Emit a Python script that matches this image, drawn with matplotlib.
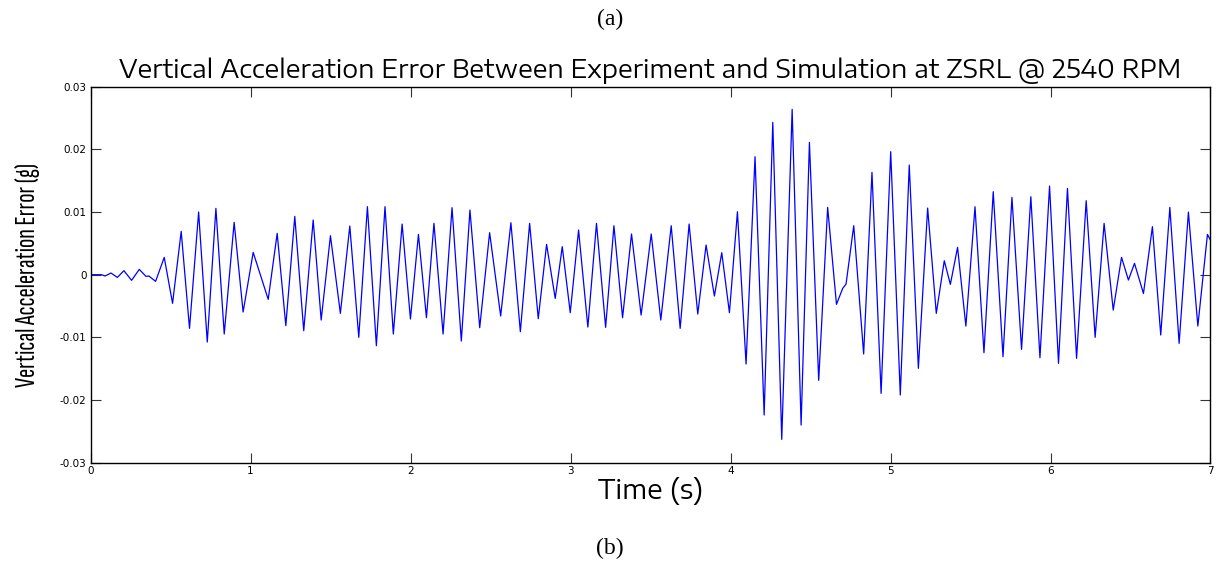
import matplotlib
matplotlib.use("Agg")
import matplotlib.pyplot as plt
from matplotlib import font_manager

# Turning points of the acceleration error trace: time (s) and error (g)
time_s = [
    0.000, 0.069, 0.090, 0.127, 0.167, 0.208, 0.256, 0.304, 0.346, 0.364,
    0.406, 0.460, 0.512, 0.566, 0.618, 0.675, 0.729, 0.783, 0.835, 0.897,
    0.953, 1.016, 1.110, 1.166, 1.220, 1.276, 1.332, 1.391, 1.441, 1.499,
    1.561, 1.620, 1.676, 1.730, 1.786, 1.840, 1.892, 1.947, 1.999, 2.049,
    2.099, 2.146, 2.203, 2.259, 2.317, 2.371, 2.432, 2.494, 2.563, 2.627,
    2.686, 2.744, 2.798, 2.850, 2.904, 2.948, 2.998, 3.050, 3.108, 3.162,
    3.219, 3.271, 3.325, 3.381, 3.441, 3.504, 3.564, 3.629, 3.685, 3.741,
    3.795, 3.847, 3.899, 3.945, 3.993, 4.043, 4.097, 4.153, 4.210, 4.264,
    4.320, 4.385, 4.441, 4.493, 4.551, 4.607, 4.662, 4.701, 4.722, 4.770,
    4.832, 4.884, 4.941, 5.001, 5.061, 5.117, 5.174, 5.232, 5.286, 5.336,
    5.374, 5.419, 5.471, 5.528, 5.584, 5.642, 5.703, 5.759, 5.819, 5.877,
    5.934, 5.994, 6.050, 6.106, 6.163, 6.223, 6.279, 6.335, 6.392, 6.444,
    6.487, 6.525, 6.581, 6.637, 6.689, 6.746, 6.804, 6.862, 6.921, 6.981,
    7.000,
]
error_g = [
    0.00000, 0.00000, -0.00021, 0.00027, -0.00043, 0.00064, -0.00090, 0.00085, -0.00027, -0.00021,
    -0.00106, 0.00276, -0.00457, 0.00691, -0.00856, 0.01000, -0.01074, 0.01058, -0.00946, 0.00835,
    -0.00595, 0.00356, -0.00393, 0.00659, -0.00813, 0.00930, -0.00893, 0.00872, -0.00723, 0.00622,
    -0.00617, 0.00776, -0.00999, 0.01085, -0.01132, 0.01085, -0.00946, 0.00808, -0.00707, 0.00643,
    -0.00686, 0.00819, -0.00946, 0.01069, -0.01058, 0.01031, -0.00845, 0.00670, -0.00659, 0.00829,
    -0.00909, 0.00819, -0.00702, 0.00484, -0.00378, 0.00447, -0.00606, 0.00712, -0.00835, 0.00819,
    -0.00840, 0.00781, -0.00686, 0.00649, -0.00643, 0.00649, -0.00723, 0.00781, -0.00856, 0.00808,
    -0.00627, 0.00473, -0.00340, 0.00351, -0.00606, 0.01005, -0.01425, 0.01882, -0.02238, 0.02430,
    -0.02626, 0.02637, -0.02398, 0.02111, -0.01685, 0.01074, -0.00473, -0.00218, -0.00149, 0.00781,
    -0.01265, 0.01632, -0.01893, 0.01962, -0.01919, 0.01749, -0.01494, 0.01063, -0.00617, 0.00223,
    -0.00154, 0.00436, -0.00819, 0.01084, -0.01244, 0.01324, -0.01308, 0.01233, -0.01191, 0.01244,
    -0.01324, 0.01414, -0.01414, 0.01377, -0.01334, 0.01180, -0.00999, 0.00819, -0.00564, 0.00276,
    -0.00085, 0.00181, -0.00300, 0.00766, -0.00962, 0.01074, -0.01095, 0.00999, -0.00819, 0.00643,
    0.00550,
]

x_ticks = [0, 1, 2, 3, 4, 5, 6, 7]
y_ticks = [-0.03, -0.02, -0.01, 0.0, 0.01, 0.02, 0.03]
y_tick_labels = ["-0.03", "-0.02", "-0.01", "0", "0.01", "0.02", "0.03"]

available = {f.name for f in font_manager.fontManager.ttflist}


def pick(*names):
    for n in names:
        if n in available:
            return n
    return "DejaVu Sans"


wide = pick("Encode Sans Expanded", "DejaVu Sans")
narrow = pick("Sofia Sans Extra Condensed", "Fira Sans Extra Condensed", "Roboto Condensed")
serif = pick("Liberation Serif", "DejaVu Serif")

plt.rcParams["font.family"] = ["DejaVu Sans"]

fig = plt.figure(figsize=(12.2, 5.65), dpi=100)
ax = fig.add_axes([0.0743, 0.1809, 0.9179, 0.6658])

ax.plot(time_s, error_g, color="#0000ff", linewidth=0.9)

ax.set_xlim(0, 7)
ax.set_ylim(-0.03, 0.03)
ax.set_xticks(x_ticks)
ax.set_xticklabels([str(v) for v in x_ticks])
ax.set_yticks(y_ticks)
ax.set_yticklabels(y_tick_labels)

ax.tick_params(axis="both", which="major", direction="in", length=7,
               width=0.8, color="#333333", labelsize=7.5, pad=3,
               top=True, right=True)
ax.tick_params(axis="x", pad=2)
for side in ax.spines.values():
    side.set_linewidth(1.0)
    side.set_color("black")

ax.set_title("Vertical Acceleration Error Between Experiment and Simulation at ZSRL @ 2540 RPM",
             fontsize=18, family=[wide, "DejaVu Sans"], pad=6)
ax.set_xlabel("Time (s)", fontsize=19, family=[wide, "DejaVu Sans"], labelpad=1)
ax.set_ylabel("Vertical Acceleration Error (g)", fontsize=20, family=[narrow, "DejaVu Sans"],
              labelpad=14)

fig.text(0.5, 0.965, "(a)", ha="center", va="center", fontsize=17, family=[serif, "DejaVu Serif"])
fig.text(0.5, 0.030, "(b)", ha="center", va="center", fontsize=17, family=[serif, "DejaVu Serif"])

fig.savefig("out.png", dpi=100, facecolor="white")
